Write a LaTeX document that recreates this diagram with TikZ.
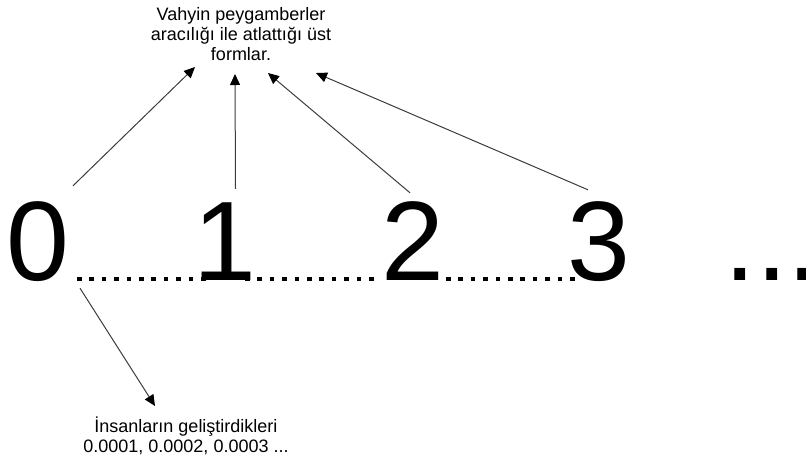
\documentclass[tikz,border=0pt]{standalone}
\usepackage{fontspec}
\setmainfont{Liberation Sans}
\usepackage{tikz}
\usetikzlibrary{arrows.meta,positioning}
\usepackage{xcolor}
\definecolor{lngray}{RGB}{60,60,60}
\tikzstyle{arrow} = [line width=1pt,lngray,-{Triangle[length=11pt,width=10pt,color=black]}]
\tikzstyle{numeral} = [inner sep=0pt, anchor=base, text height=81pt, text depth=0pt, font=\fontsize{113}{113}\selectfont]
\tikzstyle{note} = [inner sep=0pt, align=center, font=\fontsize{18}{20}\selectfont]

\begin{document}
\begin{tikzpicture}[x=1pt,y=-1pt]
\useasboundingbox (0,0) rectangle (806,459);

% Numbers
\node (d0) [numeral] at (38,280) {0};
\node (d1) [numeral] at (225,280) {1};
\node (d2) [numeral] at (413,280) {2};
\node (d3) [numeral] at (599,280) {3};
\node (etc) [numeral] at (772,280) {...};

% Dotted runs between numbers
\foreach \s in {77,245,446}
  \foreach \i in {0,...,10}
    \fill ({\s+\i*12.4},276.5) rectangle ++(4.5,4.5);

% Notes
\node (rev) [note, anchor=south] at (241,61) {Vahyin peygamberler\\aracılığı ile atlattığı üst\\formlar.};
\node (hum) [note, anchor=north] at (186,417) {İnsanların geliştirdikleri\\0.0001, 0.0002, 0.0003 ...};

\draw[arrow] ([shift={(35,-13)}]d0.north) -- ([shift={(-46,6)}]rev.south);
\draw[arrow] ([shift={(10.5,-10)}]d1.north) -- ([shift={(-6,13)}]rev.south);
\draw[arrow] ([shift={(-3,-6)}]d2.north) -- ([shift={(27,12)}]rev.south);
\draw[arrow] ([shift={(-11,-9)}]d3.north) -- ([shift={(75,12)}]rev.south);

\draw[arrow] ([shift={(42,8)}]d0.south) -- ([shift={(-31,-11)}]hum.north);
\end{tikzpicture}
\end{document}
